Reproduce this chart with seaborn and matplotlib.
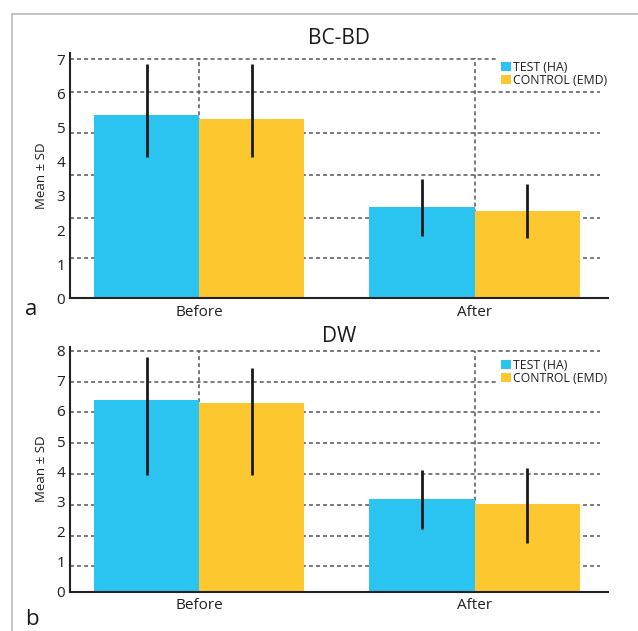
import matplotlib
matplotlib.use("Agg")
import matplotlib.pyplot as plt
from matplotlib.patches import Patch
from matplotlib.lines import Line2D
import seaborn as sns
import pandas as pd

# ---------------- data ----------------
categories = ["Before", "After"]
groups = ["TEST (HA)", "CONTROL (EMD)"]

bcbd_test_mean = [5.36, 2.67]
bcbd_control_mean = [5.24, 2.57]
bcbd_test_low = [4.13, 1.82]
bcbd_test_high = [6.86, 3.49]
bcbd_control_low = [4.13, 1.77]
bcbd_control_high = [6.86, 3.35]

dw_test_mean = [6.36, 3.09]
dw_control_mean = [6.25, 2.90]
dw_test_low = [3.89, 2.08]
dw_test_high = [7.78, 4.04]
dw_control_low = [3.89, 1.63]
dw_control_high = [7.44, 4.10]

bcbd_ticks = [0, 1, 2, 3, 4, 5, 6, 7]
dw_ticks = [0, 1, 2, 3, 4, 5, 6, 7, 8]
bcbd_grid = [1.17, 2.34, 3.61, 4.83, 6.05, 7.0]
dw_grid = [0.86, 1.86, 2.88, 3.90, 4.93, 5.96, 6.97, 8.0]

# ---------------- style ----------------
sns.set_theme(style="white")
plt.rcParams["font.family"] = ["Open Sans", "DejaVu Sans"]
plt.rcParams["text.color"] = "#1a1a1a"

blue = "#2BC3F0"
yellow = "#FDC82F"
palette = {groups[0]: blue, groups[1]: yellow}
grid_color = "#555555"
dash = (0, (2.6, 2.0))
text_dark = "#1f1f1f"

fig = plt.figure(figsize=(6.38, 6.31), dpi=100)

W, H = 638.0, 631.0


def make_df(tmean, cmean):
    rows = []
    for g, vals in zip(groups, [tmean, cmean]):
        for c, v in zip(categories, vals):
            rows.append({"period": c, "group": g, "value": v})
    return pd.DataFrame(rows)


def panel(rect, df, lows, highs, ylim_top, ticks, grid_vals, vline_top, title,
          title_y, letter, letter_y, legend_top_px):
    ax = fig.add_axes(rect)
    ax.set_axisbelow(True)
    sns.barplot(data=df, x="period", y="value", hue="group", order=categories,
                hue_order=groups, palette=palette, saturation=1, width=0.764,
                errorbar=None, linewidth=0, legend=False, ax=ax, zorder=2)
    ax.set_xlim(-0.469, 1.484)
    ax.set_ylim(0, ylim_top)
    ax.set_yticks(ticks)
    ax.set_yticklabels([str(t) for t in ticks])
    # dashed grid
    ax.hlines(grid_vals, 0, 0.985, transform=ax.get_yaxis_transform(),
              colors=grid_color, linewidth=1.1, linestyles=dash, zorder=1)
    ax.vlines(range(len(categories)), 0, vline_top, colors=grid_color,
              linewidth=1.1, linestyles=dash, zorder=1)
    # error bars
    for cont, lo, hi in zip(ax.containers, lows, highs):
        xs = [b.get_x() + b.get_width() / 2 for b in cont]
        ax.vlines(xs, lo, hi, colors="#1a1a1a", linewidth=2.0, zorder=3)
    # spines and ticks
    for s in ["top", "right"]:
        ax.spines[s].set_visible(False)
    for s in ["left", "bottom"]:
        ax.spines[s].set_color("#222222")
        ax.spines[s].set_linewidth(1.5)
    ax.tick_params(axis="y", length=0, pad=3.6, labelsize=11, labelcolor=text_dark)
    ax.tick_params(axis="x", length=0, pad=4.5, labelsize=11, labelcolor=text_dark)
    ax.set_xlabel("")
    ax.set_ylabel("Mean ± SD", fontsize=9.5, color=text_dark)
    ax.yaxis.set_label_coords(-0.041, 0.5)
    # legend
    handles = [Patch(facecolor=palette[g], edgecolor="none", label=g) for g in groups]
    leg = ax.legend(handles=handles, loc="upper left",
                    bbox_to_anchor=(497 / W, 1 - legend_top_px / H),
                    bbox_transform=fig.transFigure, fontsize=8.8, frameon=True,
                    facecolor="white", edgecolor="none", framealpha=1,
                    fancybox=False, borderpad=0.3, labelspacing=0.0,
                    handlelength=0.85, handleheight=0.75, handletextpad=0.15,
                    borderaxespad=0)
    for t in leg.get_texts():
        t.set_color(text_dark)
    leg.set_zorder(5)
    fig.text(339 / W, title_y, title, ha="center", va="baseline", fontsize=15,
             color="#1a1a1a")
    fig.text(25 / W, letter_y, letter, ha="left", va="baseline", fontsize=16,
             color="#1a1a1a")
    return ax


panel([70 / W, 1 - 298.3 / H, 538 / W, (298.3 - 53.2) / H],
      make_df(bcbd_test_mean, bcbd_control_mean),
      [bcbd_test_low, bcbd_control_low], [bcbd_test_high, bcbd_control_high],
      7.18, bcbd_ticks, bcbd_grid, 7.05, "BC-BD", 1 - 44 / H, "a", 1 - 315 / H, 57)

panel([70 / W, 1 - 591.7 / H, 538 / W, (591.7 - 346.8) / H],
      make_df(dw_test_mean, dw_control_mean),
      [dw_test_low, dw_control_low], [dw_test_high, dw_control_high],
      8.13, dw_ticks, dw_grid, 8.0, "DW", 1 - 341.7 / H, "b", 1 - 625 / H, 355)

# outer frame (left and top edges visible)
fig.add_artist(Line2D([12 / W, 12 / W], [0, 1 - 14 / H], transform=fig.transFigure,
                      color="#bbbbbb", linewidth=1.2))
fig.add_artist(Line2D([12 / W, 1], [1 - 14 / H, 1 - 14 / H], transform=fig.transFigure,
                      color="#bbbbbb", linewidth=1.2))

fig.savefig("out.png", dpi=100)
